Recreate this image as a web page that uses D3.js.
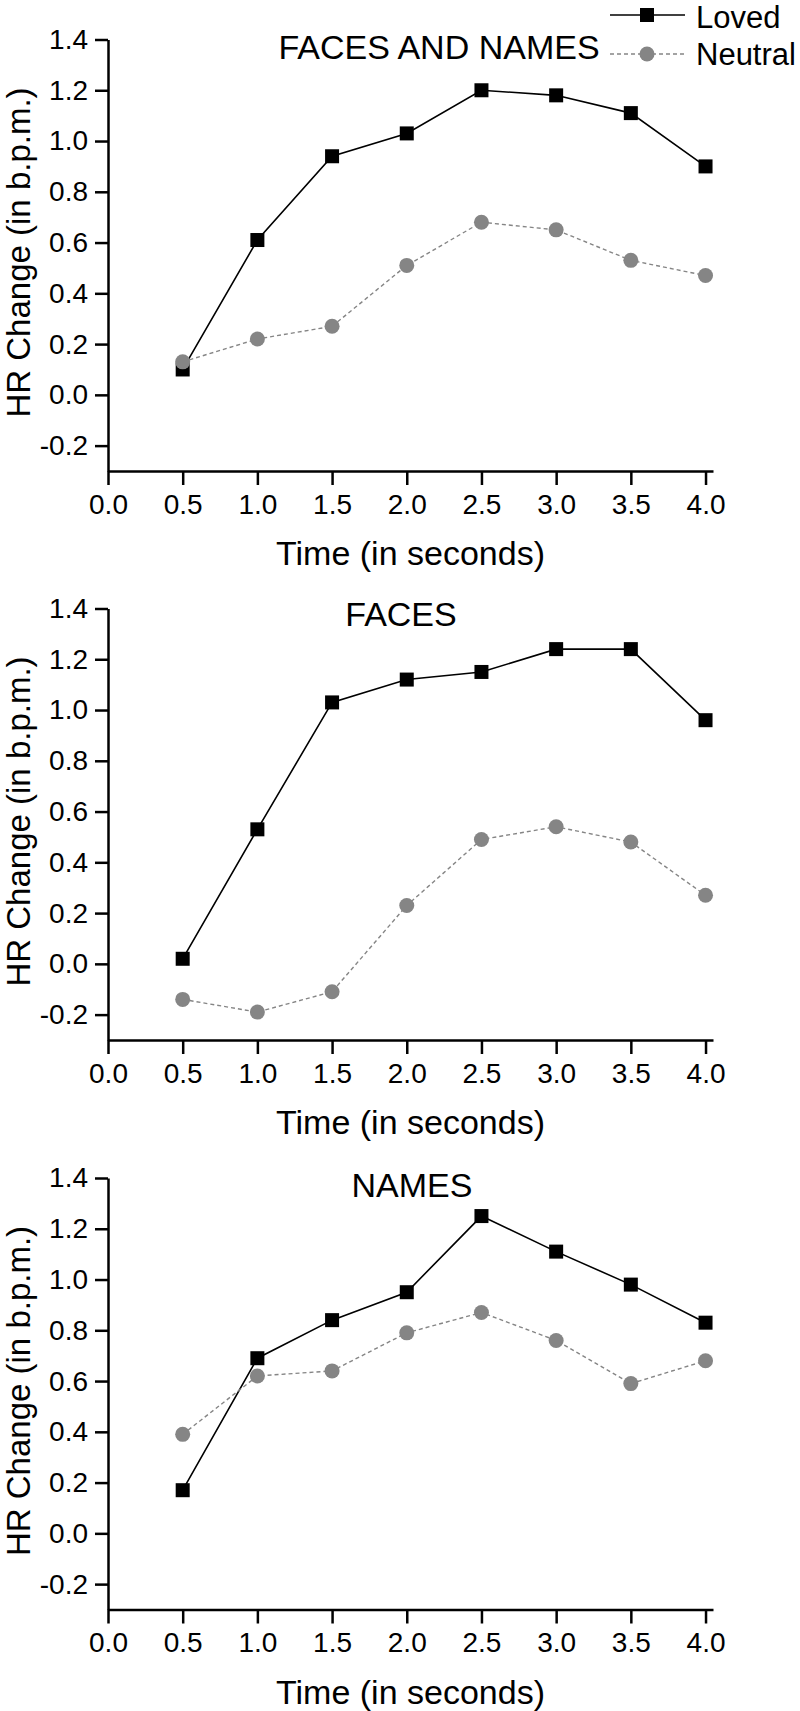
<!DOCTYPE html>
<html>
<head>
<meta charset="utf-8">
<script src="https://cdn.jsdelivr.net/npm/d3@7"></script>
<style>
  body { margin: 0; background: #fff; }
  svg { display: block; font-family: "Liberation Sans", Arial, sans-serif; }
</style>
</head>
<body>
<svg id="chart" width="800" height="1711"></svg>
<script>
// ---- data ----
const times = [0.5, 1.0, 1.5, 2.0, 2.5, 3.0, 3.5, 4.0];
const panelTitles = ["FACES AND NAMES", "FACES", "NAMES"];
const lovedFacesNames   = [0.10, 0.61, 0.94, 1.03, 1.20, 1.18, 1.11, 0.90];
const neutralFacesNames = [0.13, 0.22, 0.27, 0.51, 0.68, 0.65, 0.53, 0.47];
const lovedFaces   = [0.02, 0.53, 1.03, 1.12, 1.15, 1.24, 1.24, 0.96];
const neutralFaces = [-0.14, -0.19, -0.11, 0.23, 0.49, 0.54, 0.48, 0.27];
const lovedNames   = [0.17, 0.69, 0.84, 0.95, 1.25, 1.11, 0.98, 0.83];
const neutralNames = [0.39, 0.62, 0.64, 0.79, 0.87, 0.76, 0.59, 0.68];
const xTicks = [0.0, 0.5, 1.0, 1.5, 2.0, 2.5, 3.0, 3.5, 4.0];
const yTicks = [-0.2, 0.0, 0.2, 0.4, 0.6, 0.8, 1.0, 1.2, 1.4];
const seriesNames = ["Loved", "Neutral"];
const xTitle = "Time (in seconds)";
const yTitle = "HR Change (in b.p.m.)";

const panels = [
  { title: panelTitles[0], loved: lovedFacesNames, neutral: neutralFacesNames },
  { title: panelTitles[1], loved: lovedFaces, neutral: neutralFaces },
  { title: panelTitles[2], loved: lovedNames, neutral: neutralNames }
];

// ---- layout ----
const svg = d3.select("#chart");
const left = 108, right = 713;
const panelTops = [39.5, 608.5, 1178];
const plotH = 431.5;
const titleX = [439, 401, 412];
const titleDy = [19, 17, 19];
const grey = "#858585";

const x = d3.scaleLinear().domain([0, 4.05]).range([left, right]);

panels.forEach((p, i) => {
  const top = panelTops[i];
  const y = d3.scaleLinear().domain([-0.3, 1.4]).range([top + plotH, top]);
  const g = svg.append("g");

  // y axis
  const ya = g.append("g").attr("transform", `translate(${left},0)`)
    .call(d3.axisLeft(y).tickValues(yTicks).tickSize(13).tickSizeOuter(0).tickPadding(7)
      .tickFormat(d => d.toFixed(1)));
  // x axis
  const xa = g.append("g").attr("transform", `translate(0,${top + plotH})`)
    .call(d3.axisBottom(x).tickValues(xTicks).tickSize(14).tickSizeOuter(0).tickPadding(9)
      .tickFormat(d => d.toFixed(1)));
  [ya, xa].forEach(a => {
    a.selectAll("path.domain").attr("stroke", "#000").attr("stroke-width", 2.5);
    a.selectAll(".tick line").attr("stroke", "#000").attr("stroke-width", 2.5);
    a.selectAll(".tick text").attr("fill", "#000").style("font-size", "28px")
      .style("font-family", "'Liberation Sans', Arial, sans-serif");
  });

  // titles
  g.append("text").attr("x", titleX[i]).attr("y", top + titleDy[i])
    .attr("text-anchor", "middle").style("font-size", "34px").text(p.title);
  g.append("text").attr("x", (left + right) / 2).attr("y", top + plotH + 94)
    .attr("text-anchor", "middle").style("font-size", "34px").text(xTitle);
  g.append("text")
    .attr("transform", `translate(30,${top + 213}) rotate(-90)`)
    .attr("text-anchor", "middle").style("font-size", "33px").text(yTitle);

  const line = d3.line().x((d, k) => x(times[k])).y(d => y(d));

  // loved
  g.append("path").datum(p.loved).attr("d", line)
    .attr("fill", "none").attr("stroke", "#000").attr("stroke-width", 1.6);
  g.selectAll("rect.loved").data(p.loved).enter().append("rect")
    .attr("class", "loved")
    .attr("x", (d, k) => x(times[k]) - 7).attr("y", d => y(d) - 7)
    .attr("width", 14).attr("height", 14).attr("fill", "#000");

  // neutral
  g.append("path").datum(p.neutral).attr("d", line)
    .attr("fill", "none").attr("stroke", grey).attr("stroke-width", 1.4)
    .attr("stroke-dasharray", "4,3");
  g.selectAll("circle.neutral").data(p.neutral).enter().append("circle")
    .attr("class", "neutral")
    .attr("cx", (d, k) => x(times[k])).attr("cy", d => y(d))
    .attr("r", 7.5).attr("fill", grey);
});

// ---- legend ----
const lg = svg.append("g");
const legY = [15, 54];
const legX0 = 610, legX1 = 685, legMid = 647;
// Loved
lg.append("line").attr("x1", legX0).attr("x2", legX1).attr("y1", legY[0]).attr("y2", legY[0])
  .attr("stroke", "#000").attr("stroke-width", 1.6);
lg.append("rect").attr("x", legMid - 7).attr("y", legY[0] - 7).attr("width", 14).attr("height", 14).attr("fill", "#000");
lg.append("text").attr("x", 696).attr("y", 28).style("font-size", "31px").text(seriesNames[0]);
// Neutral
lg.append("line").attr("x1", legX0).attr("x2", legX1).attr("y1", legY[1]).attr("y2", legY[1])
  .attr("stroke", grey).attr("stroke-width", 1.4).attr("stroke-dasharray", "4,3");
lg.append("circle").attr("cx", legMid).attr("cy", legY[1]).attr("r", 7.5).attr("fill", grey);
lg.append("text").attr("x", 696).attr("y", 65).style("font-size", "31px").text(seriesNames[1]);
</script>
</body>
</html>
